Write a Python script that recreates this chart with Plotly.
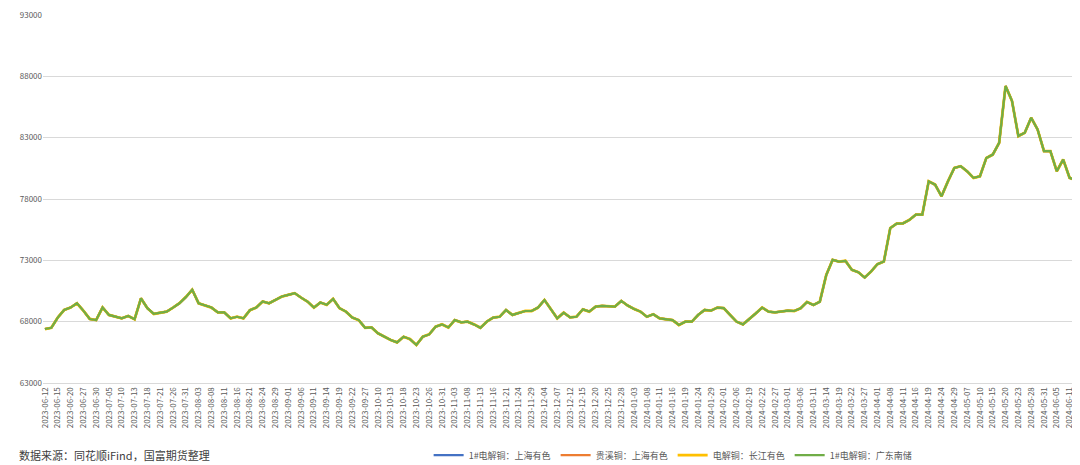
import plotly.graph_objects as go

tick_labels = ["2023-06-12","2023-06-15","2023-06-20","2023-06-27","2023-06-30","2023-07-05","2023-07-10","2023-07-13","2023-07-18","2023-07-21","2023-07-26","2023-07-31","2023-08-03","2023-08-08","2023-08-11","2023-08-16","2023-08-21","2023-08-24","2023-08-29","2023-09-01","2023-09-06","2023-09-11","2023-09-14","2023-09-19","2023-09-22","2023-09-27","2023-10-10","2023-10-13","2023-10-18","2023-10-23","2023-10-26","2023-10-31","2023-11-03","2023-11-08","2023-11-13","2023-11-16","2023-11-21","2023-11-24","2023-11-29","2023-12-04","2023-12-07","2023-12-12","2023-12-15","2023-12-20","2023-12-25","2023-12-28","2024-01-03","2024-01-08","2024-01-11","2024-01-16","2024-01-19","2024-01-24","2024-01-29","2024-02-01","2024-02-06","2024-02-19","2024-02-22","2024-02-27","2024-03-01","2024-03-06","2024-03-11","2024-03-14","2024-03-19","2024-03-22","2024-03-27","2024-04-01","2024-04-08","2024-04-11","2024-04-16","2024-04-19","2024-04-24","2024-04-29","2024-05-07","2024-05-10","2024-05-15","2024-05-20","2024-05-23","2024-05-28","2024-05-31","2024-06-05","2024-06-11"]

# price readings at half-label steps (k = 0..160) plus final day
prices = [67400,67500,68330,68950,69150,69500,68900,68220,68130,69150,68550,68400,68270,68460,68200,69900,69100,68630,68700,68820,
69150,69500,70000,70600,69500,69350,69150,68760,68760,68270,68400,68270,68930,69150,69640,69500,69770,70050,70180,70320,
69960,69640,69150,69560,69370,69860,69100,68820,68330,68130,67500,67530,67050,66770,66500,66310,66770,66580,66100,66770,
66960,67590,67780,67530,68130,67950,68000,67780,67500,68000,68330,68400,68950,68550,68680,68870,68870,69150,69770,69000,
68270,68740,68350,68400,69000,68820,69230,69280,69230,69230,69690,69310,69040,68820,68400,68600,68270,68220,68130,67730,
68000,68000,68550,68950,68900,69150,69100,68550,68000,67780,68270,68680,69150,68820,68760,68820,68900,68870,69090,69600,
69360,69630,71800,73040,72900,72960,72220,72030,71600,72090,72690,72900,75630,76000,76020,76300,76720,76720,79440,79170,
78220,79440,80530,80670,80260,79720,79850,81350,81620,82580,87210,86000,83130,83400,84620,83670,81900,81900,80260,81220,
79720,79590]
positions = [i * 0.5 for i in range(161)] + [80.35]

series_names = ["1#电解铜：上海有色", "贵溪铜：上海有色", "电解铜：长江有色", "1#电解铜：广东南储"]
series_colors = ["#4472C4", "#ED7D31", "#FFC000", "#70AD47"]
widths = [2.2, 2.2, 2.8, 2.2]

fig = go.Figure()
for name, color, w in zip(series_names, series_colors, widths):
    fig.add_trace(go.Scatter(x=positions, y=prices, mode="lines", name=name,
                             line=dict(color=color, width=w)))

fig.update_layout(
    width=1080, height=465,
    margin=dict(l=35, r=12, t=7, b=90, autoexpand=False),
    paper_bgcolor="white", plot_bgcolor="white",
    font=dict(family="Noto Sans CJK SC, sans-serif", color="#595959"),
    showlegend=True,
    legend=dict(orientation="h", x=0.61, xanchor="center", y=-0.196, yanchor="middle",
                font=dict(size=9, color="#595959"), itemwidth=30, tracegroupgap=0),
)
fig.update_xaxes(range=[-0.15, 80.5], tickmode="array", automargin=False,
                 tickvals=list(range(len(tick_labels))), ticktext=tick_labels,
                 tickangle=-90, tickfont=dict(size=8, color="#595959"),
                 showgrid=False, showline=True, linecolor="#d9d9d9", zeroline=False)
fig.update_yaxes(range=[63000, 93000], tick0=63000, dtick=5000, tickformat="d",
                 automargin=False, tickfont=dict(size=8, color="#595959"),
                 gridcolor="#d9d9d9", showline=False, zeroline=False)
fig.add_annotation(text="数据来源：同花顺iFind，国富期货整理", xref="paper", yref="paper",
                   x=-0.025, y=-0.196, xanchor="left", yanchor="middle", showarrow=False,
                   font=dict(size=11, color="#404040"))
fig.write_html("out.html")
